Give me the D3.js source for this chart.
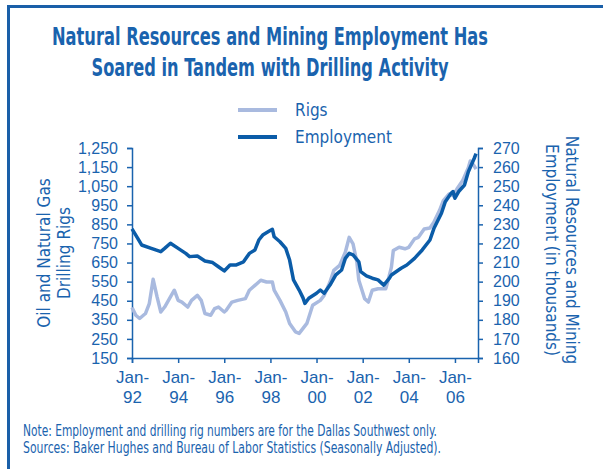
<!DOCTYPE html>
<meta charset="utf-8">
<style>
body { margin: 0; background: #fff; }
svg { font-family: "Liberation Sans Narrow", "DejaVu Sans Condensed", sans-serif; }
.axis path, .axis line { stroke: #1a63ae; stroke-width: 1.5px; }
.axis text { fill: #1a63ae; font-size: 16px; }
.xaxis text { font-size: 17px; }
.txt { fill: #1a63ae; }
</style>
<body>
<script src="https://cdn.jsdelivr.net/npm/d3@7"></script>
<script>
// rigs (left scale)
var rigDates = ["1992-01","1992-03","1992-05","1992-08","1992-10","1992-12","1993-02","1993-04","1993-06","1993-09",
  "1993-11","1994-01","1994-03","1994-06","1994-08","1994-11","1995-01","1995-03","1995-06","1995-08","1995-10",
  "1996-01","1996-02","1996-05","1996-08","1996-12","1997-02","1997-05","1997-08","1997-11","1998-02","1998-03",
  "1998-06","1998-09","1998-11","1999-02","1999-04","1999-08","1999-11","2000-03","2000-05","2000-08","2000-10",
  "2001-01","2001-04","2001-06","2001-08","2001-10","2001-11","2002-02","2002-04","2002-06","2002-09","2003-01",
  "2003-02","2003-04","2003-05","2003-08","2003-11","2004-01","2004-04","2004-06","2004-09","2004-12","2005-02",
  "2005-05","2005-07","2005-10","2005-12","2006-02","2006-05","2006-08","2006-09","2006-11","2006-12"];
var rigs = [415,374,357,383,435,562,470,391,417,470,
  505,452,443,417,452,478,452,383,374,409,417,
  391,400,443,452,461,505,530,557,548,548,505,
  452,391,331,287,279,331,426,452,478,548,609,
  635,704,782,748,652,557,461,443,505,513,513,
  548,626,713,730,722,730,774,782,826,831,861,
  922,974,1009,1000,1035,1078,1147,1182,1156,1139];

// employment, thousands (right scale)
var empDates = ["1992-01","1992-04","1992-06","1992-11","1993-04","1993-06","1993-09","1994-01","1994-05","1994-07",
  "1994-11","1995-03","1995-07","1995-10","1996-01","1996-04","1996-07","1996-11","1997-02","1997-05","1997-07",
  "1997-09","1997-12","1998-02","1998-03","1998-06","1998-09","1998-11","1999-01","1999-04","1999-06","1999-07",
  "1999-09","2000-01","2000-03","2000-05","2000-08","2000-11","2001-02","2001-04","2001-06","2001-08","2001-11",
  "2001-12","2002-03","2002-06","2002-09","2002-12","2003-03","2003-04","2003-09","2003-12","2004-04","2004-08",
  "2004-12","2005-02","2005-06","2005-08","2005-11","2005-12","2006-01","2006-03","2006-06","2006-08","2006-11","2006-12"];
var employment = [227.6,222.7,219.2,217.4,215.7,217.4,220.1,217.4,214.8,213.1,
  213.4,210.8,210.0,207.8,205.6,208.7,208.7,210.4,214.8,216.6,221.8,
  224.4,226.2,227.4,223.5,220.9,217.4,211.3,200.9,195.6,191.5,188.6,
  191.3,193.9,195.6,193.9,198.2,203.5,206.1,212.2,214.8,214.0,210.4,
  205.2,203.0,201.8,200.9,198.2,201.8,203.5,207,208.7,212.2,216.6,
  221.8,227.8,235.8,241.9,246.3,247.2,243.7,247.2,250.6,257.6,264.5,267];

var rigTicks = [150,250,350,450,550,650,750,850,950,1050,1150,1250];
var empTicks = [160,170,180,190,200,210,220,230,240,250,260,270];
var yearTicks = ["1992","1994","1996","1998","2000","2002","2004","2006"];

var titleLines = ["Natural Resources and Mining Employment Has", "Soared in Tandem with Drilling Activity"];
var noteLines = ["Note: Employment and drilling rig numbers are for the Dallas Southwest only.",
  "Sources: Baker Hughes and Bureau of Labor Statistics (Seasonally Adjusted)."];

var W = 603, H = 469;
var plotL = 132, plotR = 478, plotT = 148, plotB = 358;
var dark = "#0b5ca8", light = "#a9badf";

var parse = d3.timeParse("%Y-%m");
var fmtYr = d3.timeFormat("%y");

var svg = d3.select("body").append("svg").attr("width", W).attr("height", H);

// frame
svg.append("path")
    .attr("d", "M8.5," + (H + 5) + "V6.5H" + (W + 5))
    .attr("fill", "none").attr("stroke", "#1a5fa8").attr("stroke-width", 3);

var x = d3.scaleTime().domain([parse("1992-01"), parse("2007-01")]).range([plotL, plotR]);
var yL = d3.scaleLinear().domain([150, 1250]).range([plotB, plotT]);
var yR = d3.scaleLinear().domain([160, 270]).range([plotB, plotT]);

// title
svg.selectAll(".title").data(titleLines).enter().append("text")
    .attr("class", "txt title")
    .attr("x", 270).attr("y", function(d, i) { return 45 + i * 31; })
    .attr("text-anchor", "middle")
    .attr("font-size", 24).attr("font-weight", "bold")
    .attr("textLength", function(d, i) { return i == 0 ? 436 : 357; })
    .attr("lengthAdjust", "spacingAndGlyphs")
    .text(function(d) { return d; });

// legend
var legend = [{name: "Rigs", color: light, y: 110}, {name: "Employment", color: dark, y: 137}];
legend.forEach(function(l) {
  svg.append("line").attr("x1", 238).attr("x2", 277).attr("y1", l.y).attr("y2", l.y)
      .attr("stroke", l.color).attr("stroke-width", 4);
  svg.append("text").attr("class", "txt").attr("x", 295).attr("y", l.y + 6)
      .attr("font-size", 17).text(l.name);
});

// axes
svg.append("g").attr("class", "axis")
    .attr("transform", "translate(" + plotL + ",0)")
    .call(d3.axisLeft(yL).tickValues(rigTicks).tickSize(5).tickPadding(9).tickFormat(d3.format(",")));
svg.append("g").attr("class", "axis")
    .attr("transform", "translate(" + plotR + ",0)")
    .call(d3.axisRight(yR).tickValues(empTicks).tickSize(5).tickPadding(10));
var xa = svg.append("g").attr("class", "axis xaxis")
    .attr("transform", "translate(0," + plotB + ")")
    .call(d3.axisBottom(x).tickValues(yearTicks.map(function(y) { return parse(y + "-01"); }))
      .tickSize(5).tickPadding(8).tickFormat(function(d) { return "Jan-|" + fmtYr(d); }));
xa.selectAll(".tick text").each(function() {
  var t = d3.select(this), parts = t.text().split("|");
  t.text(null);
  t.append("tspan").attr("x", 0).attr("dy", "0.71em").text(parts[0]);
  t.append("tspan").attr("x", 0).attr("dy", "1.2em").text(parts[1]);
});

// lines
var rigData = rigDates.map(function(d, i) { return {date: parse(d), v: rigs[i]}; });
var empData = empDates.map(function(d, i) { return {date: parse(d), v: employment[i]}; });

svg.append("path").datum(rigData)
    .attr("fill", "none").attr("stroke", light).attr("stroke-width", 3.5).attr("stroke-linejoin", "round")
    .attr("d", d3.line().x(function(d) { return x(d.date); }).y(function(d) { return yL(d.v); }));
svg.append("path").datum(empData)
    .attr("fill", "none").attr("stroke", dark).attr("stroke-width", 3.5).attr("stroke-linejoin", "round")
    .attr("d", d3.line().x(function(d) { return x(d.date); }).y(function(d) { return yR(d.v); }));

// axis titles
var lt = svg.append("text").attr("class", "txt").attr("font-size", 17)
    .attr("text-anchor", "middle").attr("transform", "translate(50,253) rotate(-90)");
lt.append("tspan").attr("x", 0).attr("y", 0).text("Oil and Natural Gas");
lt.append("tspan").attr("x", 0).attr("y", 20).text("Drilling Rigs");

var rt = svg.append("text").attr("class", "txt").attr("font-size", 17)
    .attr("text-anchor", "middle").attr("transform", "translate(566,250) rotate(90)");
rt.append("tspan").attr("x", 0).attr("y", 0).text("Natural Resources and Mining");
rt.append("tspan").attr("x", 0).attr("y", 20).text("Employment (in thousands)");

// notes
svg.selectAll(".note").data(noteLines).enter().append("text")
    .attr("class", "txt note").attr("x", 23).attr("y", function(d, i) { return 436 + i * 17; })
    .attr("font-size", 15)
    .attr("textLength", function(d, i) { return i == 0 ? 414 : 418; })
    .attr("lengthAdjust", "spacingAndGlyphs")
    .text(function(d) { return d; });
</script>
